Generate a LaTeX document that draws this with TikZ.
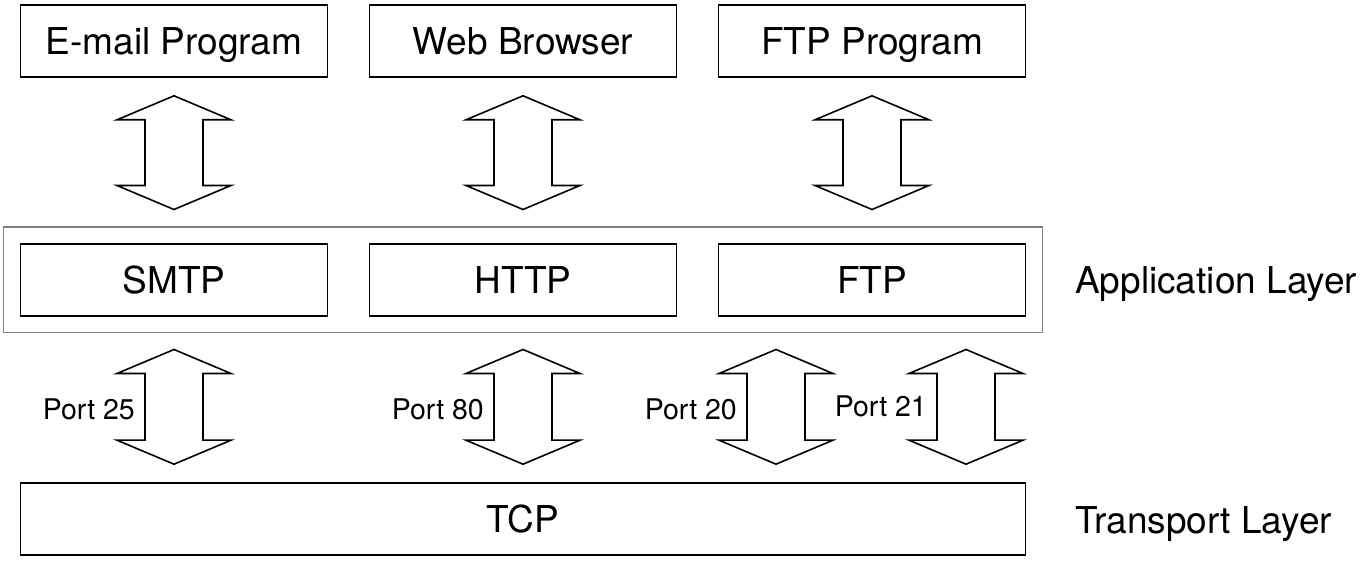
\documentclass[tikz,border=0pt]{standalone}
\usepackage{fontspec}
\setmainfont{TeX Gyre Heros}
\usetikzlibrary{calc,fit,positioning}

\tikzset{
  box/.style={draw, line width=1.6pt, minimum width=307pt, minimum height=72pt,
    inner sep=0pt, font=\fontsize{37}{44}\selectfont, text height=27pt, text depth=0pt},
  layerbox/.style={draw=black!50, line width=1.4pt, inner sep=16pt},
  portlabel/.style={font=\fontsize{28.5}{34}\selectfont, anchor=east, inner sep=0pt,
    text height=20pt, text depth=0pt},
  layerlabel/.style={font=\fontsize{37}{44}\selectfont, anchor=base west, inner sep=0pt},
  fatarrow/.style={draw, fill=white, line width=1.6pt, line join=miter},
}

\def\hw{57pt} % head half width
\def\sw{29pt} % shaft half width
\def\hl{24pt} % head length

% fat double arrow from top tip #1 to bottom tip #2
\newcommand{\fatarrow}[2]{%
  \draw[fatarrow]
    (#1) -- ($(#1)+(\hw,-\hl)$) -- ($(#1)+(\sw,-\hl)$)
    -- ($(#2)+(\sw,\hl)$) -- ($(#2)+(\hw,\hl)$) -- (#2)
    -- ($(#2)+(-\hw,\hl)$) -- ($(#2)+(-\sw,\hl)$)
    -- ($(#1)+(-\sw,-\hl)$) -- ($(#1)+(-\hw,-\hl)$) -- cycle;}

\begin{document}
\begin{tikzpicture}[x=1pt,y=1pt]
  \useasboundingbox (0,0) rectangle (1369,560);

  % programs
  \node[box] (email)   at (174,519) {E-mail Program};
  \node[box] (web)     at (523,519) {Web Browser};
  \node[box] (ftpprog) at (872,519) {FTP Program};

  % application protocols
  \node[box] (smtp) at (174,280) {SMTP};
  \node[box] (http) at (523,280) {HTTP};
  \node[box] (ftp)  at (872,280) {FTP};
  \node[layerbox, fit=(smtp)(ftp)] (app) {};

  % transport
  \node[box, minimum width=1005pt] (tcp) at (523,41) {TCP};

  % arrow tips
  \coordinate (emailt) at ($(email.south)+(0,-18pt)$);
  \coordinate (emailb) at ($(app.north -| email)+(0,17pt)$);
  \coordinate (webt)   at ($(web.south)+(0,-18pt)$);
  \coordinate (webb)   at ($(app.north -| web)+(0,17pt)$);
  \coordinate (ftppt)  at ($(ftpprog.south)+(0,-18pt)$);
  \coordinate (ftppb)  at ($(app.north -| ftpprog)+(0,17pt)$);

  \coordinate (p25t) at ($(app.south -| smtp)+(0,-16pt)$);
  \coordinate (p25b) at ($(tcp.north -| smtp)+(0,18pt)$);
  \coordinate (p80t) at ($(app.south -| http)+(0,-16pt)$);
  \coordinate (p80b) at ($(tcp.north -| http)+(0,18pt)$);
  \coordinate (p20t) at ($(app.south -| ftp)+(-96pt,-16pt)$);
  \coordinate (p20b) at ($(tcp.north -| ftp)+(-96pt,18pt)$);
  \coordinate (p21t) at ($(app.south -| ftp)+(94pt,-16pt)$);
  \coordinate (p21b) at ($(tcp.north -| ftp)+(94pt,18pt)$);

  % arrows
  \fatarrow{emailt}{emailb}
  \fatarrow{webt}{webb}
  \fatarrow{ftppt}{ftppb}
  \fatarrow{p25t}{p25b}
  \fatarrow{p80t}{p80b}
  \fatarrow{p20t}{p20b}
  \fatarrow{p21t}{p21b}

  % port labels
  \node[portlabel] (port25) at ($(p25t)!0.5!(p25b)+(-39pt,-3pt)$) {Port 25};
  \node[portlabel] (port80) at ($(p80t)!0.5!(p80b)+(-39pt,-3pt)$) {Port 80};
  \node[portlabel] (port20) at ($(p20t)!0.5!(p20b)+(-39pt,-3pt)$) {Port 20};
  \node[portlabel] (port21) at ($(p21t)!0.5!(p21b)+(-39pt,0pt)$) {Port 21};

  % layer labels
  \node[layerlabel] (applabel) at (1075,266) {Application Layer};
  \node[layerlabel] (translabel) at (1075,27) {Transport Layer};
\end{tikzpicture}
\end{document}
